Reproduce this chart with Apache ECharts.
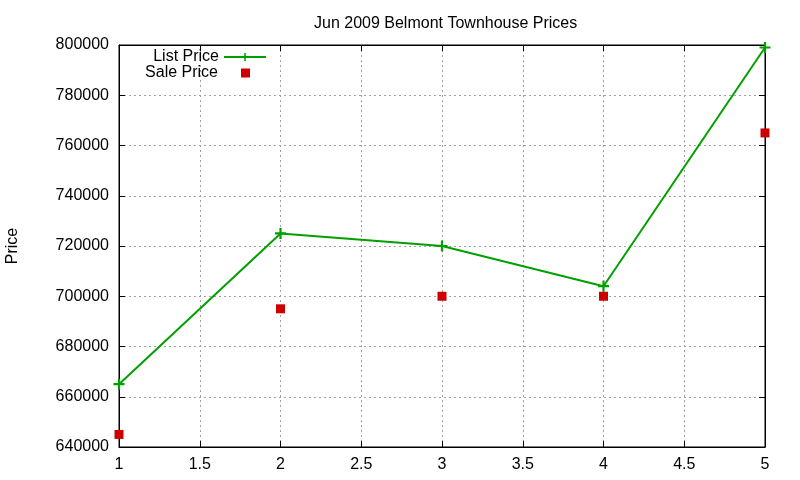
<!DOCTYPE html>
<html lang="en">
<head>
    <meta charset="UTF-8">
    <title>Jun 2009 Belmont Townhouse Prices</title>
    <script src="https://cdn.jsdelivr.net/npm/echarts@6/dist/echarts.min.js"></script>
    <style type="text/css">
        html, body { margin: 0; height: 100%; background: #fff; }
    </style>
</head>
<body>
<div id="main" style="width: 800px;height:480px;"></div>
<script>
    const months = [1, 2, 3, 4, 5];
    const listPrice = [665000, 725000, 720000, 704000, 799000];
    const salePrice = [645000, 695000, 700000, 700000, 765000];

    const font = 'Liberation Sans, Arial, sans-serif';
    const plus = 'path://M0,4 L4,4 L4,0 L6,0 L6,4 L10,4 L10,6 L6,6 L6,10 L4,10 L4,6 L0,6 Z';
    const dotted = {show: true, lineStyle: {color: '#a0a0a0', type: [2, 3], width: 1}};
    const txt = {fontFamily: font, fontSize: 16, color: '#000'};

    const myChart = echarts.init(document.getElementById('main'), null, {renderer: 'canvas'});
    const option = {
        animation: false,
        title: {
            text: 'Jun 2009 Belmont Townhouse Prices',
            left: 309,
            top: 11,
            textStyle: {fontFamily: font, fontSize: 16, fontWeight: 'normal', color: '#000'}
        },
        legend: [{
            right: 528,
            top: 44,
            align: 'right',
            itemWidth: 42,
            itemHeight: 10,
            textStyle: txt,
            data: ['List Price']
        }, {
            right: 545,
            top: 60,
            align: 'right',
            itemWidth: 9,
            itemHeight: 9,
            icon: 'rect',
            textStyle: Object.assign({padding: [0, 18, 0, 0]}, txt),
            data: ['Sale Price']
        }],
        grid: {
            left: 119, right: 35, top: 45, bottom: 33,
            outerBoundsMode: 'none',
            show: true, borderColor: '#000', borderWidth: 1
        },
        xAxis: [{
            type: 'value', min: 1, max: 5, interval: 0.5,
            axisLine: {lineStyle: {color: '#000'}},
            axisTick: {inside: true, length: 6, lineStyle: {color: '#000'}},
            axisLabel: Object.assign({margin: 10}, txt),
            splitLine: dotted
        }, {
            type: 'value', min: 1, max: 5, interval: 0.5, position: 'top',
            axisLine: {lineStyle: {color: '#000'}},
            axisTick: {inside: true, length: 6, lineStyle: {color: '#000'}},
            axisLabel: {show: false}, splitLine: {show: false}
        }],
        yAxis: [{
            type: 'value', min: 640000, max: 800000, interval: 20000,
            name: 'Price', nameLocation: 'middle', nameGap: 98, nameRotate: 90,
            nameTextStyle: txt,
            axisLine: {show: true, lineStyle: {color: '#000'}},
            axisTick: {show: true, inside: true, length: 6, lineStyle: {color: '#000'}},
            axisLabel: Object.assign({margin: 10, formatter: v => String(v)}, txt),
            splitLine: dotted
        }, {
            type: 'value', min: 640000, max: 800000, interval: 20000, position: 'right',
            axisLine: {show: true, lineStyle: {color: '#000'}},
            axisTick: {show: true, inside: true, length: 6, lineStyle: {color: '#000'}},
            axisLabel: {show: false}, splitLine: {show: false}
        }],
        series: [{
            name: 'List Price',
            type: 'line',
            data: months.map((m, i) => [m, listPrice[i]]),
            symbol: plus,
            symbolSize: 11,
            itemStyle: {color: '#00a000'},
            lineStyle: {color: '#00a000', width: 2}
        }, {
            name: 'Sale Price',
            type: 'scatter',
            data: months.map((m, i) => [m, salePrice[i]]),
            symbol: 'rect',
            symbolSize: 9,
            itemStyle: {color: '#cc0000', opacity: 1}
        }]
    };
    myChart.setOption(option);
</script>
</body>
</html>
